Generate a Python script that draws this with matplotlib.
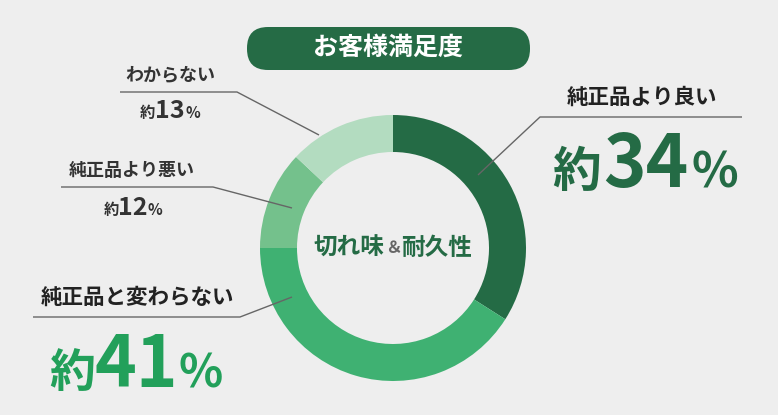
import matplotlib
matplotlib.use("Agg")
import matplotlib.pyplot as plt
from matplotlib.patches import FancyBboxPatch

plt.rcParams['font.family'] = ['Noto Sans CJK JP', 'DejaVu Sans']

# ---- data ----
categories = ["純正品より良い", "純正品と変わらない", "純正品より悪い", "わからない"]
values = [34, 41, 12, 13]
slice_colors = ["#246b45", "#3fb172", "#74c18c", "#b3dcc0"]
title = "お客様満足度"
center_parts = [("切れ味", "#246b45"), ("＆", "#666666"), ("耐久性", "#246b45")]

W, H = 778, 415
BG = "#eeeeee"
fig = plt.figure(figsize=(W / 100, H / 100), dpi=100, facecolor=BG)
ax = fig.add_axes([0, 0, 1, 1])
ax.set_facecolor(BG)

def Y(py):
    return H - py

cx, cy, R, ring = 393, 248, 133, 37
ax.pie(values, colors=slice_colors, startangle=90, counterclock=False,
       center=(cx, Y(cy)), radius=R,
       wedgeprops=dict(width=ring, edgecolor='none'))
ax.set_xlim(0, W)
ax.set_ylim(0, H)
ax.set_aspect('equal')
ax.axis('off')

# title box
box = FancyBboxPatch((247, Y(70)), 283, 43, boxstyle="round,pad=0,rounding_size=21",
                     facecolor="#256b45", edgecolor='none')
ax.add_patch(box)
ax.text(388, Y(48), title, ha='center', va='center', color='white',
        fontsize=18, fontweight='bold')

renderer = fig.canvas.get_renderer()

def rich(x, py, parts, va='baseline', gap=0):
    """parts: list of (text, fontsize, color); centered at x on baseline py."""
    texts = []
    widths = []
    for s, fs, col in parts:
        t = ax.text(0, Y(py), s, ha='left', va=va, fontsize=fs, color=col,
                    fontweight='bold')
        bb = t.get_window_extent(renderer)
        texts.append(t)
        widths.append(bb.width)
    total = sum(widths) + gap * (len(parts) - 1)
    cur = x - total / 2
    for t, w in zip(texts, widths):
        t.set_x(cur)
        cur += w + gap

# center text
rich(cx, 248, [(s, 17, c) if s != "＆" else (s, 12, c) for s, c in center_parts], va='center')

# leader lines (pixel coords)
def leader(pts):
    xs = [p[0] for p in pts]
    ys = [Y(p[1]) for p in pts]
    ax.plot(xs, ys, color="#666666", lw=1.0, solid_capstyle='butt')

leader([(478, 175), (540, 117), (742, 117)])
leader([(292, 297), (240, 317), (33, 317)])
leader([(292, 208), (213, 187), (61, 187)])
leader([(319, 135), (237, 92), (120, 92)])

dark = "#222222"
# 34%
ax.text(642, Y(97), categories[0], ha='center', va='center', fontsize=15.5,
        fontweight='bold', color=dark)
rich(645, 187, [("約", 35, "#246b45"), (str(values[0]), 52, "#246b45"), ("%", 35, "#246b45")], gap=3)
# 41%
ax.text(137, Y(297), categories[1], ha='center', va='center', fontsize=15.5,
        fontweight='bold', color=dark)
rich(136, 387, [("約", 33, "#22a05a"), (str(values[1]), 51, "#22a05a"), ("%", 33, "#22a05a")], gap=0)
# 12%
ax.text(132, Y(171), categories[2], ha='center', va='center', fontsize=13,
        fontweight='bold', color="#333333")
rich(133, 215, [("約", 11, "#333333"), (str(values[2]), 18, "#333333"), ("%", 11, "#333333")])
# 13%
ax.text(170, Y(75), categories[3], ha='center', va='center', fontsize=13,
        fontweight='bold', color="#333333")
rich(170, 118, [("約", 11, "#333333"), (str(values[3]), 18, "#333333"), ("%", 11, "#333333")])

fig.savefig("out.png", dpi=100, facecolor=BG)
